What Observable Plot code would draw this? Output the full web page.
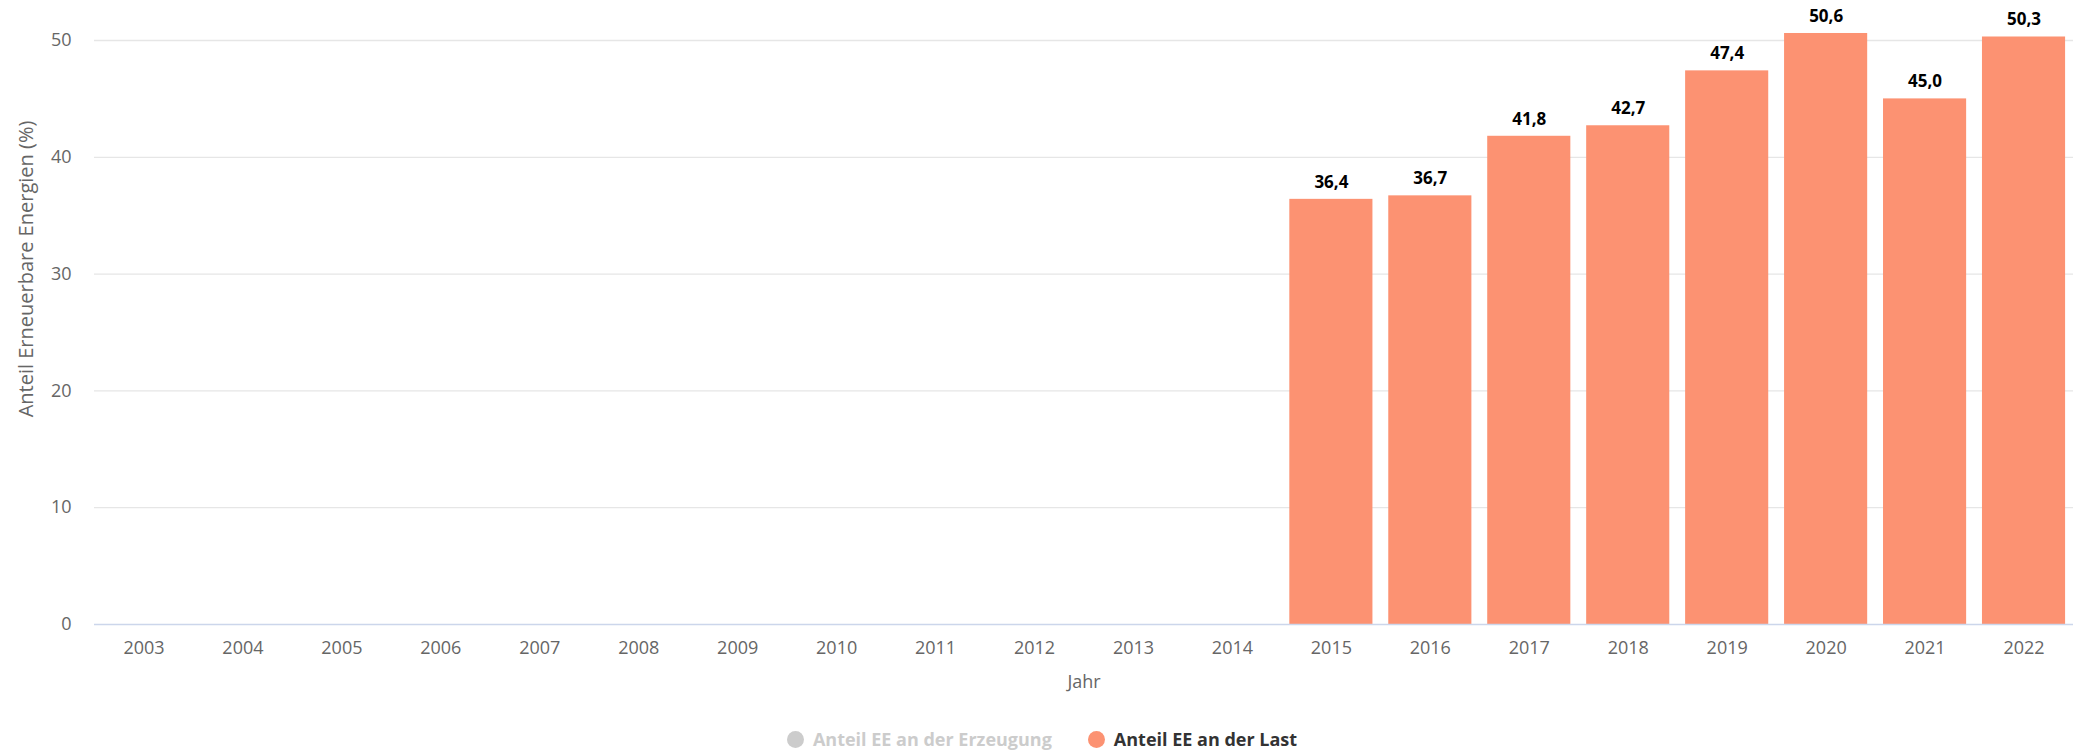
<!DOCTYPE html>
<html>
<head>
<meta charset="utf-8">
<script src="https://cdn.jsdelivr.net/npm/d3@7"></script>
<script src="https://cdn.jsdelivr.net/npm/@observablehq/plot@0.6"></script>
<style>
  html, body { margin: 0; padding: 0; background: #fff; }
  body { width: 2080px; height: 751px; position: relative; overflow: hidden; font-family: "Open Sans", sans-serif; }
  #ytitle { position: absolute; left: 25px; top: 269px; transform: translate(-50%, -50%) rotate(-90deg); white-space: nowrap; color: #666; font-size: 20px; }
  #legend { display: flex; justify-content: center; align-items: center; gap: 36px; margin-top: 28px; height: 22px; font-size: 18px; font-weight: bold; padding-left: 4px; }
  .item { display: flex; align-items: center; gap: 9px; }
  .dot { width: 17px; height: 17px; border-radius: 50%; }
</style>
</head>
<body>
<div id="chart"></div>
<div id="ytitle">Anteil Erneuerbare Energien (%)</div>
<div id="legend"></div>
<script>
const years = ["2003","2004","2005","2006","2007","2008","2009","2010","2011","2012","2013","2014","2015","2016","2017","2018","2019","2020","2021","2022"];
const anteilLast = [null,null,null,null,null,null,null,null,null,null,null,null,36.4,36.7,41.8,42.7,47.4,50.6,45.0,50.3];
const yTicks = [0,10,20,30,40,50];
const seriesNames = ["Anteil EE an der Erzeugung", "Anteil EE an der Last"];
const seriesColors = ["#cccccc", "#fc9272"];

const data = years.map((y, i) => ({year: y, value: anteilLast[i]}));
const bars = data.filter(d => d.value != null);
const fmt = v => v.toFixed(1).replace(".", ",");

const chart = Plot.plot({
  width: 2080,
  height: 700,
  marginLeft: 94,
  marginRight: 7,
  marginTop: 40,
  marginBottom: 76,
  style: {fontFamily: "'Open Sans', sans-serif", fontSize: "18px", color: "#666"},
  x: {domain: years, paddingInner: 0.16, paddingOuter: 0.08, round: false, label: null},
  y: {domain: [0, 50], label: null},
  marks: [
    Plot.ruleY(yTicks.filter(t => t > 0), {stroke: "#e6e6e6", strokeWidth: 1.3}),
    Plot.barY(bars, {x: "year", y: "value", fill: seriesColors[1]}),
    Plot.ruleY([0], {stroke: "#ccd6eb", strokeWidth: 1.5}),
    Plot.text(bars, {x: "year", y: "value", text: d => fmt(d.value), dy: -17, fill: "#000", stroke: "#fff", strokeWidth: 3, paintOrder: "stroke", fontWeight: "bold", fontSize: 17}),
    Plot.axisX({ticks: years, tickSize: 0, tickPadding: 17, fill: "#666", fontSize: 18, label: null}),
    Plot.axisY({ticks: yTicks, tickSize: 0, tickPadding: 23, fill: "#666", fontSize: 18, label: null}),
    Plot.text(["Jahr"], {frameAnchor: "bottom", dy: 63, fill: "#666", fontSize: 18})
  ]
});
document.getElementById("chart").appendChild(chart);

const legend = document.getElementById("legend");
seriesNames.forEach((name, i) => {
  const item = document.createElement("div");
  item.className = "item";
  const dot = document.createElement("div");
  dot.className = "dot";
  dot.style.background = seriesColors[i];
  const label = document.createElement("span");
  label.textContent = name;
  label.style.color = i === 0 ? "#cccccc" : "#333333";
  item.appendChild(dot);
  item.appendChild(label);
  legend.appendChild(item);
});
</script>
</body>
</html>
